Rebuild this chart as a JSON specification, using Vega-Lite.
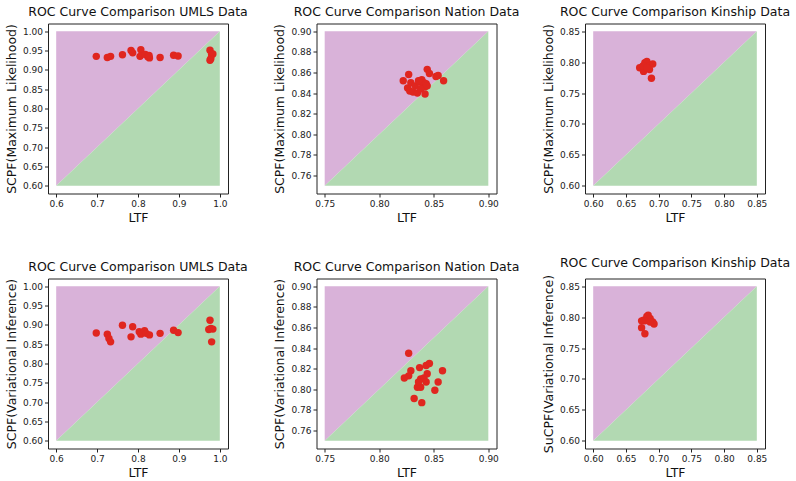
{
  "$schema": "https://vega.github.io/schema/vega-lite/v6.json",
  "background": "white",
  "padding": {"left": 4, "top": 5.5, "right": 0, "bottom": 0},
  "bounds": "flush",
  "columns": 3,
  "spacing": {"row": 85, "column": 88.5},
  "datasets": {
    "zones_umls": [
      {"ltf": 0.6, "scpf": 0.6, "scpf_top": 1.0, "zone": "upper"},
      {"ltf": 1.0, "scpf": 1.0, "scpf_top": 1.0, "zone": "upper"},
      {"ltf": 0.6, "scpf": 0.6, "scpf_top": 0.6, "zone": "lower"},
      {"ltf": 1.0, "scpf": 0.6, "scpf_top": 1.0, "zone": "lower"}
    ],
    "zones_nation": [
      {"ltf": 0.75, "scpf": 0.75, "scpf_top": 0.9, "zone": "upper"},
      {"ltf": 0.9, "scpf": 0.9, "scpf_top": 0.9, "zone": "upper"},
      {"ltf": 0.75, "scpf": 0.75, "scpf_top": 0.75, "zone": "lower"},
      {"ltf": 0.9, "scpf": 0.75, "scpf_top": 0.9, "zone": "lower"}
    ],
    "zones_kinship": [
      {"ltf": 0.6, "scpf": 0.6, "scpf_top": 0.85, "zone": "upper"},
      {"ltf": 0.85, "scpf": 0.85, "scpf_top": 0.85, "zone": "upper"},
      {"ltf": 0.6, "scpf": 0.6, "scpf_top": 0.6, "zone": "lower"},
      {"ltf": 0.85, "scpf": 0.6, "scpf_top": 0.85, "zone": "lower"}
    ],
    "umls_ml": [
      {"ltf": 0.698, "scpf": 0.935}, {"ltf": 0.725, "scpf": 0.932}, {"ltf": 0.733, "scpf": 0.935},
      {"ltf": 0.762, "scpf": 0.939}, {"ltf": 0.783, "scpf": 0.950}, {"ltf": 0.787, "scpf": 0.944},
      {"ltf": 0.807, "scpf": 0.952}, {"ltf": 0.805, "scpf": 0.935}, {"ltf": 0.818, "scpf": 0.940},
      {"ltf": 0.824, "scpf": 0.934}, {"ltf": 0.828, "scpf": 0.931}, {"ltf": 0.827, "scpf": 0.937},
      {"ltf": 0.854, "scpf": 0.932}, {"ltf": 0.887, "scpf": 0.938}, {"ltf": 0.898, "scpf": 0.936},
      {"ltf": 0.976, "scpf": 0.951}, {"ltf": 0.980, "scpf": 0.940}, {"ltf": 0.983, "scpf": 0.941},
      {"ltf": 0.978, "scpf": 0.929}, {"ltf": 0.976, "scpf": 0.925}
    ],
    "nation_ml": [
      {"ltf": 0.822, "scpf": 0.852}, {"ltf": 0.827, "scpf": 0.858}, {"ltf": 0.826, "scpf": 0.845},
      {"ltf": 0.829, "scpf": 0.850}, {"ltf": 0.828, "scpf": 0.842}, {"ltf": 0.831, "scpf": 0.841},
      {"ltf": 0.835, "scpf": 0.840}, {"ltf": 0.833, "scpf": 0.847}, {"ltf": 0.837, "scpf": 0.851},
      {"ltf": 0.839, "scpf": 0.853}, {"ltf": 0.840, "scpf": 0.848}, {"ltf": 0.841, "scpf": 0.850},
      {"ltf": 0.842, "scpf": 0.846}, {"ltf": 0.838, "scpf": 0.844}, {"ltf": 0.843, "scpf": 0.849},
      {"ltf": 0.844, "scpf": 0.847}, {"ltf": 0.842, "scpf": 0.839}, {"ltf": 0.844, "scpf": 0.863},
      {"ltf": 0.846, "scpf": 0.859}, {"ltf": 0.852, "scpf": 0.856}, {"ltf": 0.854, "scpf": 0.857},
      {"ltf": 0.859, "scpf": 0.852}, {"ltf": 0.836, "scpf": 0.852}
    ],
    "kinship_ml": [
      {"ltf": 0.671, "scpf": 0.791}, {"ltf": 0.679, "scpf": 0.799}, {"ltf": 0.682, "scpf": 0.801},
      {"ltf": 0.684, "scpf": 0.793}, {"ltf": 0.691, "scpf": 0.797}, {"ltf": 0.677, "scpf": 0.785},
      {"ltf": 0.686, "scpf": 0.788}, {"ltf": 0.689, "scpf": 0.774}, {"ltf": 0.676, "scpf": 0.794},
      {"ltf": 0.682, "scpf": 0.791}
    ],
    "umls_vi": [
      {"ltf": 0.698, "scpf": 0.879}, {"ltf": 0.725, "scpf": 0.876}, {"ltf": 0.729, "scpf": 0.865},
      {"ltf": 0.733, "scpf": 0.856}, {"ltf": 0.762, "scpf": 0.899}, {"ltf": 0.787, "scpf": 0.895},
      {"ltf": 0.783, "scpf": 0.869}, {"ltf": 0.803, "scpf": 0.882}, {"ltf": 0.807, "scpf": 0.876},
      {"ltf": 0.816, "scpf": 0.885}, {"ltf": 0.820, "scpf": 0.878}, {"ltf": 0.828, "scpf": 0.874},
      {"ltf": 0.854, "scpf": 0.878}, {"ltf": 0.887, "scpf": 0.886}, {"ltf": 0.898, "scpf": 0.880},
      {"ltf": 0.976, "scpf": 0.912}, {"ltf": 0.978, "scpf": 0.891}, {"ltf": 0.983, "scpf": 0.889},
      {"ltf": 0.973, "scpf": 0.888}, {"ltf": 0.980, "scpf": 0.856}
    ],
    "nation_vi": [
      {"ltf": 0.827, "scpf": 0.835}, {"ltf": 0.837, "scpf": 0.821}, {"ltf": 0.843, "scpf": 0.823},
      {"ltf": 0.846, "scpf": 0.825}, {"ltf": 0.858, "scpf": 0.818}, {"ltf": 0.829, "scpf": 0.818},
      {"ltf": 0.827, "scpf": 0.813}, {"ltf": 0.823, "scpf": 0.811}, {"ltf": 0.838, "scpf": 0.810},
      {"ltf": 0.841, "scpf": 0.811}, {"ltf": 0.843, "scpf": 0.807}, {"ltf": 0.844, "scpf": 0.815},
      {"ltf": 0.835, "scpf": 0.802}, {"ltf": 0.838, "scpf": 0.802}, {"ltf": 0.854, "scpf": 0.807},
      {"ltf": 0.851, "scpf": 0.799}, {"ltf": 0.832, "scpf": 0.791}, {"ltf": 0.839, "scpf": 0.787},
      {"ltf": 0.836, "scpf": 0.807}
    ],
    "kinship_vi": [
      {"ltf": 0.677, "scpf": 0.795}, {"ltf": 0.682, "scpf": 0.801}, {"ltf": 0.684, "scpf": 0.803},
      {"ltf": 0.687, "scpf": 0.798}, {"ltf": 0.691, "scpf": 0.792}, {"ltf": 0.693, "scpf": 0.789},
      {"ltf": 0.679, "scpf": 0.794}, {"ltf": 0.674, "scpf": 0.794}, {"ltf": 0.687, "scpf": 0.792},
      {"ltf": 0.674, "scpf": 0.783}, {"ltf": 0.679, "scpf": 0.773}
    ]
  },
  "concat": [
    {
      "title": "ROC Curve Comparison UMLS Data",
      "width": 180, "height": 170,
      "encoding": {
        "x": {"field": "ltf", "type": "quantitative", "scale": {"domain": [0.58, 1.02], "nice": false, "zero": false},
              "axis": {"title": "LTF", "values": [0.6, 0.7, 0.8, 0.9, 1.0], "format": ".1f"}},
        "y": {"field": "scpf", "type": "quantitative", "stack": null, "scale": {"domain": [0.58, 1.02], "nice": false, "zero": false},
              "axis": {"title": "SCPF(Maximum Likelihood)", "values": [0.6, 0.65, 0.7, 0.75, 0.8, 0.85, 0.9, 0.95, 1.0], "format": ".2f"}}
      },
      "layer": [
        {"data": {"name": "zones_umls"}, "mark": {"type": "area", "opacity": 1},
         "encoding": {"y2": {"field": "scpf_top"}, "color": {"field": "zone", "type": "nominal", "scale": {"domain": ["upper", "lower"], "range": ["#d9b2d9", "#b2d9b2"]}, "legend": null}}},
        {"data": {"name": "umls_ml"}, "mark": {"type": "point", "filled": true, "opacity": 1, "size": 55, "color": "#e0261f"}}
      ]
    },
    {
      "title": "ROC Curve Comparison Nation Data",
      "width": 180, "height": 170,
      "encoding": {
        "x": {"field": "ltf", "type": "quantitative", "scale": {"domain": [0.7425, 0.9075], "nice": false, "zero": false},
              "axis": {"title": "LTF", "values": [0.75, 0.8, 0.85, 0.9], "format": ".2f"}},
        "y": {"field": "scpf", "type": "quantitative", "stack": null, "scale": {"domain": [0.7425, 0.9075], "nice": false, "zero": false},
              "axis": {"title": "SCPF(Maximum Likelihood)", "values": [0.76, 0.78, 0.8, 0.82, 0.84, 0.86, 0.88, 0.9], "format": ".2f"}}
      },
      "layer": [
        {"data": {"name": "zones_nation"}, "mark": {"type": "area", "opacity": 1},
         "encoding": {"y2": {"field": "scpf_top"}, "color": {"field": "zone", "type": "nominal", "scale": {"domain": ["upper", "lower"], "range": ["#d9b2d9", "#b2d9b2"]}, "legend": null}}},
        {"data": {"name": "nation_ml"}, "mark": {"type": "point", "filled": true, "opacity": 1, "size": 55, "color": "#e0261f"}}
      ]
    },
    {
      "title": "ROC Curve Comparison Kinship Data",
      "width": 180, "height": 170,
      "encoding": {
        "x": {"field": "ltf", "type": "quantitative", "scale": {"domain": [0.5875, 0.8625], "nice": false, "zero": false},
              "axis": {"title": "LTF", "values": [0.6, 0.65, 0.7, 0.75, 0.8, 0.85], "format": ".2f"}},
        "y": {"field": "scpf", "type": "quantitative", "stack": null, "scale": {"domain": [0.5875, 0.8625], "nice": false, "zero": false},
              "axis": {"title": "SCPF(Maximum Likelihood)", "values": [0.6, 0.65, 0.7, 0.75, 0.8, 0.85], "format": ".2f"}}
      },
      "layer": [
        {"data": {"name": "zones_kinship"}, "mark": {"type": "area", "opacity": 1},
         "encoding": {"y2": {"field": "scpf_top"}, "color": {"field": "zone", "type": "nominal", "scale": {"domain": ["upper", "lower"], "range": ["#d9b2d9", "#b2d9b2"]}, "legend": null}}},
        {"data": {"name": "kinship_ml"}, "mark": {"type": "point", "filled": true, "opacity": 1, "size": 55, "color": "#e0261f"}}
      ]
    },
    {
      "title": "ROC Curve Comparison UMLS Data",
      "width": 180, "height": 170,
      "encoding": {
        "x": {"field": "ltf", "type": "quantitative", "scale": {"domain": [0.58, 1.02], "nice": false, "zero": false},
              "axis": {"title": "LTF", "values": [0.6, 0.7, 0.8, 0.9, 1.0], "format": ".1f"}},
        "y": {"field": "scpf", "type": "quantitative", "stack": null, "scale": {"domain": [0.58, 1.02], "nice": false, "zero": false},
              "axis": {"title": "SCPF(Variational Inference)", "values": [0.6, 0.65, 0.7, 0.75, 0.8, 0.85, 0.9, 0.95, 1.0], "format": ".2f"}}
      },
      "layer": [
        {"data": {"name": "zones_umls"}, "mark": {"type": "area", "opacity": 1},
         "encoding": {"y2": {"field": "scpf_top"}, "color": {"field": "zone", "type": "nominal", "scale": {"domain": ["upper", "lower"], "range": ["#d9b2d9", "#b2d9b2"]}, "legend": null}}},
        {"data": {"name": "umls_vi"}, "mark": {"type": "point", "filled": true, "opacity": 1, "size": 55, "color": "#e0261f"}}
      ]
    },
    {
      "title": "ROC Curve Comparison Nation Data",
      "width": 180, "height": 170,
      "encoding": {
        "x": {"field": "ltf", "type": "quantitative", "scale": {"domain": [0.7425, 0.9075], "nice": false, "zero": false},
              "axis": {"title": "LTF", "values": [0.75, 0.8, 0.85, 0.9], "format": ".2f"}},
        "y": {"field": "scpf", "type": "quantitative", "stack": null, "scale": {"domain": [0.7425, 0.9075], "nice": false, "zero": false},
              "axis": {"title": "SCPF(Variational Inference)", "values": [0.76, 0.78, 0.8, 0.82, 0.84, 0.86, 0.88, 0.9], "format": ".2f"}}
      },
      "layer": [
        {"data": {"name": "zones_nation"}, "mark": {"type": "area", "opacity": 1},
         "encoding": {"y2": {"field": "scpf_top"}, "color": {"field": "zone", "type": "nominal", "scale": {"domain": ["upper", "lower"], "range": ["#d9b2d9", "#b2d9b2"]}, "legend": null}}},
        {"data": {"name": "nation_vi"}, "mark": {"type": "point", "filled": true, "opacity": 1, "size": 55, "color": "#e0261f"}}
      ]
    },
    {
      "title": "ROC Curve Comparison Kinship Data",
      "width": 180, "height": 170,
      "encoding": {
        "x": {"field": "ltf", "type": "quantitative", "scale": {"domain": [0.5875, 0.8625], "nice": false, "zero": false},
              "axis": {"title": "LTF", "values": [0.6, 0.65, 0.7, 0.75, 0.8, 0.85], "format": ".2f"}},
        "y": {"field": "scpf", "type": "quantitative", "stack": null, "scale": {"domain": [0.5875, 0.8625], "nice": false, "zero": false},
              "axis": {"title": "SuCPF(Variational Inference)", "values": [0.6, 0.65, 0.7, 0.75, 0.8, 0.85], "format": ".2f"}}
      },
      "layer": [
        {"data": {"name": "zones_kinship"}, "mark": {"type": "area", "opacity": 1},
         "encoding": {"y2": {"field": "scpf_top"}, "color": {"field": "zone", "type": "nominal", "scale": {"domain": ["upper", "lower"], "range": ["#d9b2d9", "#b2d9b2"]}, "legend": null}}},
        {"data": {"name": "kinship_vi"}, "mark": {"type": "point", "filled": true, "opacity": 1, "size": 55, "color": "#e0261f"}}
      ]
    }
  ],
  "config": {
    "font": "DejaVu Sans",
    "view": {"stroke": "#222", "strokeWidth": 1},
    "axis": {
      "grid": false, "domain": false, "tickSize": 3.5, "tickColor": "#222",
      "labelFont": "DejaVu Sans", "labelFontSize": 9, "labelColor": "#222", "labelPadding": 2,
      "labelFlush": false, "labelOverlap": false,
      "titleFont": "DejaVu Sans", "titleFontSize": 12.5, "titleFontWeight": "normal", "titleColor": "#111"
    },
    "axisX": {"titlePadding": 3},
    "axisY": {"titlePadding": 4},
    "title": {"font": "DejaVu Sans", "fontSize": 12.5, "fontWeight": "normal", "color": "#111", "offset": 5}
  }
}
